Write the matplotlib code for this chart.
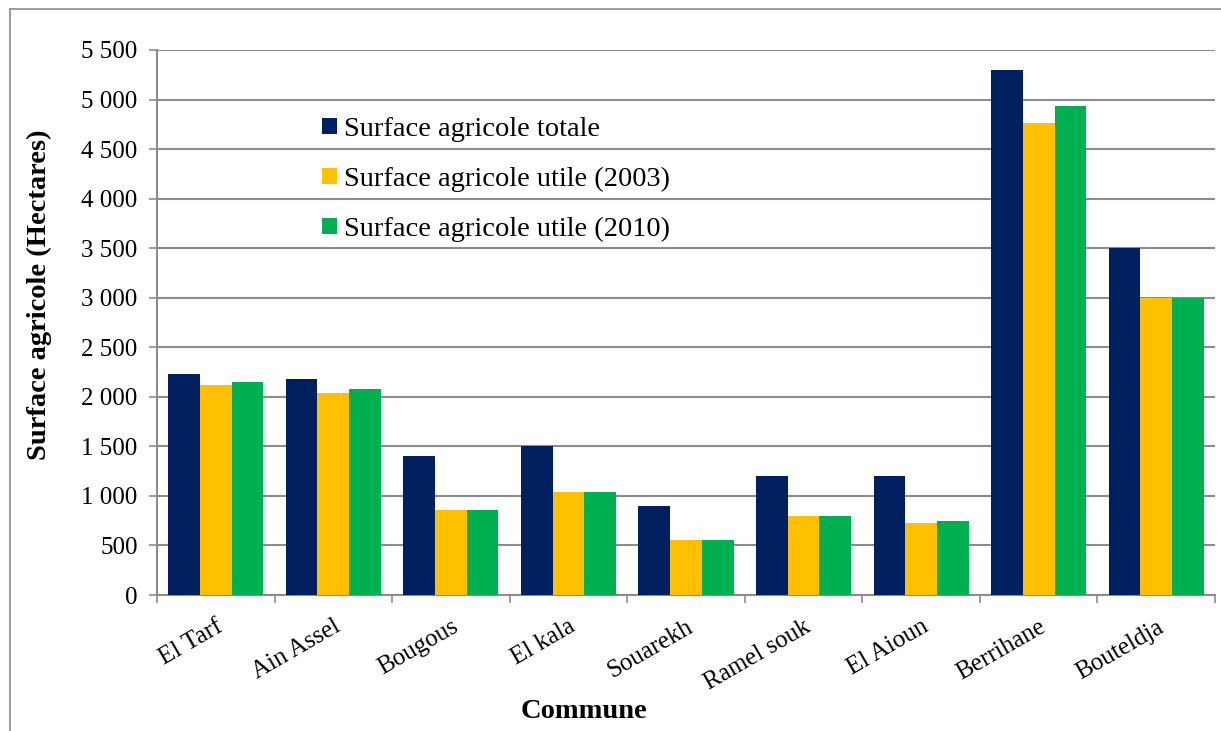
import matplotlib
matplotlib.use("Agg")
import matplotlib.pyplot as plt
import numpy as np
from matplotlib.lines import Line2D

communes = ["El Tarf", "Ain Assel", "Bougous", "El kala", "Souarekh",
            "Ramel souk", "El Aioun", "Berrihane", "Bouteldja"]
sat = [2230, 2180, 1400, 1500, 900, 1200, 1200, 5300, 3500]
sau_2003 = [2115, 2035, 858, 1040, 560, 800, 725, 4760, 3000]
sau_2010 = [2145, 2078, 858, 1040, 560, 800, 745, 4935, 3000]
series_names = ["Surface agricole totale", "Surface agricole utile (2003)",
                "Surface agricole utile (2010)"]
yticks = [0, 500, 1000, 1500, 2000, 2500, 3000, 3500, 4000, 4500, 5000, 5500]
ytick_labels = ["0", "500", "1 000", "1 500", "2 000", "2 500", "3 000",
                "3 500", "4 000", "4 500", "5 000", "5 500"]

colors = ["#002060", "#FFC000", "#00B050"]

plt.rcParams['font.family'] = ['Liberation Serif', 'DejaVu Serif']

W, H = 1221, 731
fig = plt.figure(figsize=(W / 100, H / 100), dpi=100)
axL, axB, axW, axH = 157, 595, 1215 - 157, 595 - 50
ax = fig.add_axes([axL / W, 1 - axB / H, axW / W, axH / H])

x = np.arange(len(communes))
bw = 0.27
for i, (vals, c, name) in enumerate(zip([sat, sau_2003, sau_2010], colors, series_names)):
    ax.bar(x + (i - 1) * bw, vals, width=bw, color=c, label=name, zorder=3,
           edgecolor='none')

ax.set_xlim(-0.5, len(communes) - 0.5)
ax.set_ylim(0, 5500)
ax.set_yticks(yticks)
ax.set_yticklabels(ytick_labels, fontsize=18)
ax.yaxis.grid(True, color="#8c8c8c", linewidth=1.5, zorder=0)
ax.set_axisbelow(True)

ax.set_xticks(x)
ax.set_xticklabels(communes, rotation=30, ha='right', rotation_mode='anchor', fontsize=18)
ax.tick_params(axis='x', length=0, pad=15)
ax.set_xticks(np.arange(-0.5, len(communes) + 0.5, 1), minor=True)
ax.tick_params(axis='x', which='minor', length=6, color="#8c8c8c", width=1.2, direction='out')
ax.tick_params(axis='y', length=6, color="#8c8c8c", width=1.2, direction='out', pad=8)

for s in ['top', 'right']:
    ax.spines[s].set_visible(False)
for s in ['left', 'bottom']:
    ax.spines[s].set_color("#8c8c8c")
    ax.spines[s].set_linewidth(1.5)

ax.set_ylabel("Surface agricole (Hectares)", fontsize=20.5, fontweight='bold')
ax.yaxis.label.set_va('center')
ax.yaxis.set_label_coords((39 - axL) / axW, (axB - 295) / axH)
ax.set_xlabel("Commune", fontsize=20.5, fontweight='bold')
ax.xaxis.label.set_va('center')
ax.xaxis.set_label_coords((584 - axL) / axW, (axB - 712) / axH)

leg = ax.legend(loc='upper left', bbox_to_anchor=((322 - axL) / axW, (axB - 117) / axH),
                frameon=False, fontsize=20.5, handlelength=0.53, handleheight=0.5,
                handletextpad=0.25, labelspacing=0.88, borderaxespad=0, borderpad=0)

# outer chart border
fig.add_artist(Line2D([10 / W, 10 / W], [0, 1 - 9 / H], transform=fig.transFigure,
                      color="#8c8c8c", linewidth=1.2))
fig.add_artist(Line2D([10 / W, 1], [1 - 9 / H, 1 - 9 / H], transform=fig.transFigure,
                      color="#8c8c8c", linewidth=1.2))

fig.savefig("out.png", dpi=100)
